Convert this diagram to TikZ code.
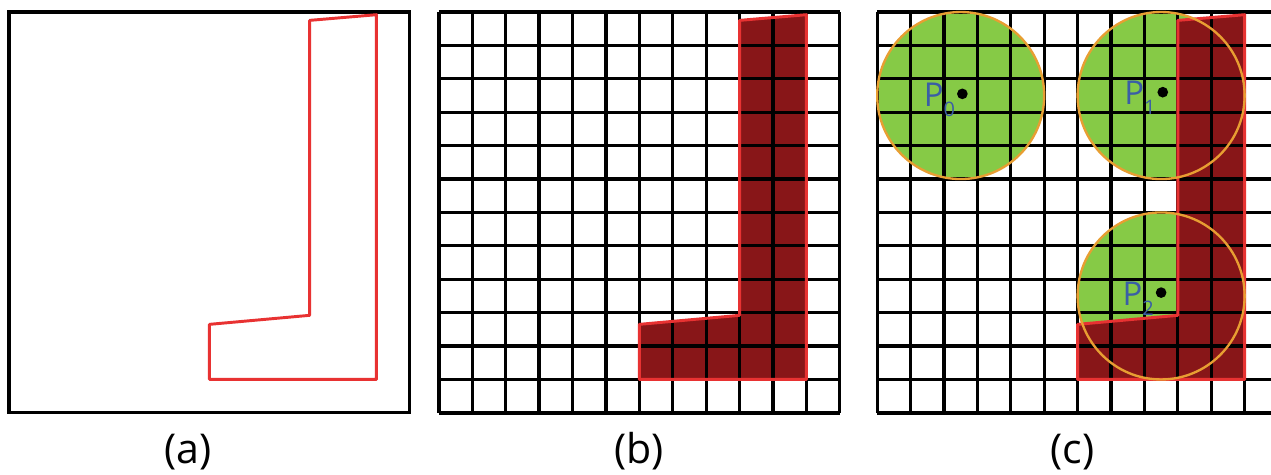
\documentclass[tikz,border=0pt]{standalone}
\usepackage{fontspec}
\setmainfont{Open Sans}
\definecolor{shapered}{RGB}{136,22,24}
\definecolor{edgered}{RGB}{232,50,50}
\definecolor{leafgreen}{RGB}{134,202,70}
\definecolor{ringorange}{RGB}{232,158,50}
\definecolor{labelblue}{RGB}{58,94,166}
\tikzset{
  gridline/.style={line width=2.8pt, black},
  outline/.style={line width=2.5pt, draw=edgered, line join=round},
  ring/.style={line width=2pt, draw=ringorange},
  pdot/.style={circle, fill=black, inner sep=0pt, minimum size=0.32cm},
  plabel/.style={text=labelblue, font=\fontsize{28}{28}\selectfont, inner sep=0pt, anchor=base east},
  caption/.style={font=\fontsize{35}{35}\selectfont, inner sep=0pt, anchor=base}
}
\newcommand{\lshapepath}{(9,11.75) -- (11,11.92) -- (11,1) -- (6,1) -- (6,2.65) -- (9,2.92) -- cycle}
\newcommand{\psub}[1]{\raisebox{-0.3em}{\fontsize{17}{17}\selectfont #1}}

\begin{document}
\begin{tikzpicture}
    \useasboundingbox (0,0) rectangle (38.05,14.19);
    \clip (0,0) rectangle (38.05,14.19);
    \fill[white] (0,0) rectangle (38.05,14.19);
    % (a) outline only
    \begin{scope}[shift={(0.27,1.83)}]
        \draw[line width=2.6pt] (0,0) rectangle (12,12);
        \draw[outline] \lshapepath;
    \end{scope}
    % (b) rasterised
    \begin{scope}[shift={(13.14,1.83)}]
        \fill[shapered] \lshapepath;
        \draw[gridline] (0,0) grid (12,12);
        \draw[outline] \lshapepath;
    \end{scope}
    % (c) probes
    \begin{scope}[shift={(26.26,1.83)}]
        \fill[leafgreen] (2.5,9.5) circle (2.5);
        \fill[leafgreen] (8.5,9.5) circle (2.5);
        \fill[leafgreen] (8.5,3.5) circle (2.5);
        \fill[shapered] \lshapepath;
        \draw[gridline] (0,0) grid (12,12);
        \draw[outline] \lshapepath;
        \draw[ring] (2.5,9.5) circle (2.5);
        \draw[ring] (8.5,9.5) circle (2.5);
        \draw[ring] (8.5,3.5) circle (2.5);
        \node[pdot] (p0) at (2.55,9.55) {};
        \node[pdot] (p1) at (8.55,9.6) {};
        \node[pdot] (p2) at (8.5,3.6) {};
        \node[plabel] (l0) at (2.34,9.16) {P\psub{0}};
        \node[plabel] (l1) at (8.34,9.22) {P\psub{1}};
        \node[plabel] (l2) at (8.29,3.22) {P\psub{2}};
    \end{scope}
    % captions
    \node[caption] (ca) at (5.63,0.3) {(a)};
    \node[caption] (cb) at (19.13,0.3) {(b)};
    \node[caption] (cc) at (32.1,0.3) {(c)};
\end{tikzpicture}
\end{document}
